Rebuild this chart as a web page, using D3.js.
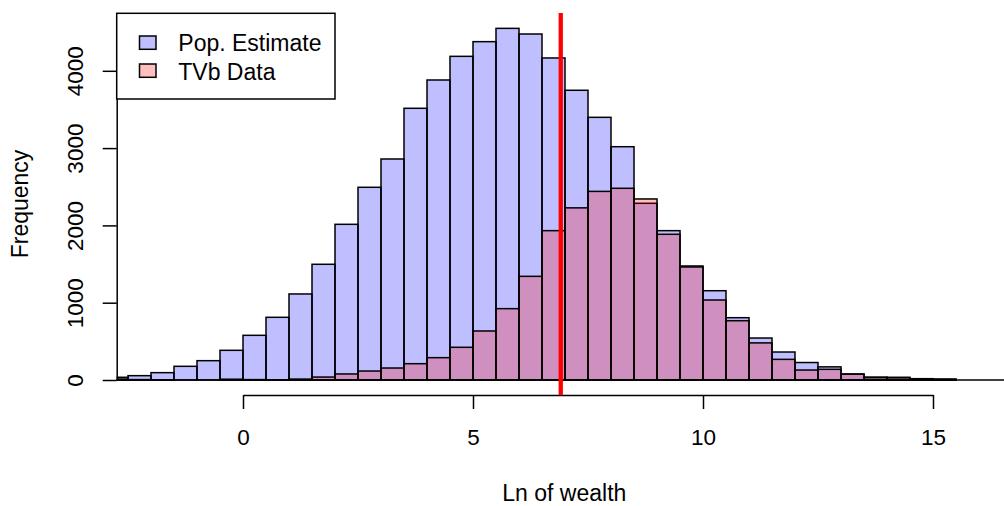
<!DOCTYPE html>
<html>
  <head>
    <meta charset="utf-8">
    <title>Ln of wealth histogram</title>
    <script src="https://cdn.jsdelivr.net/npm/d3@7"></script>
    <style>
      body { margin: 0; background: #fff; }
      svg { display: block; font-family: "Liberation Sans", Arial, sans-serif; }
    </style>
  </head>
  <body>
    <svg id="chart" width="1004" height="506"></svg>
    <script>
// histogram bins: left edges, width 0.5
const binStart = -3;
const binWidth = 0.5;
const popCounts = [35, 56, 95, 177, 250, 384, 578, 811, 1113, 1497,
  2014, 2493, 2859, 3515, 3881, 4187, 4377, 4549, 4476, 4166,
  3748, 3398, 3018, 2286, 1932, 1475, 1155, 806, 543, 362,
  226, 170, 75, 38, 35, 17, 12, 0, 0, 0];
const tvbCounts = [12, 5, 3, 0, 0, 10, 5, 3, 12, 38,
  78, 116, 155, 211, 289, 423, 634, 923, 1341, 1932,
  2227, 2440, 2480, 2342, 1885, 1462, 1035, 767, 480, 267,
  129, 138, 78, 30, 28, 14, 9, 0, 0, 0];
const xTicks = [0, 5, 10, 15];
const yTicks = [0, 1000, 2000, 3000, 4000];
const cutoff = Math.log(1000);  // red line
const legendLabels = ['Pop. Estimate', 'TVb Data'];
const legendFills = ['rgba(0,0,255,0.25)', 'rgba(255,0,0,0.25)'];

let svg = d3.select('#chart');

let plotLeft = 116.7, plotRight = 1012, plotTop = 13, plotBottom = 395;

let x = d3.scaleLinear().domain([0, 15]).range([243, 933]);
let y = d3.scaleLinear().domain([0, 4000]).range([380, 70.8]);

svg.append('defs').append('clipPath').attr('id', 'plot-clip')
  .append('rect')
  .attr('x', plotLeft).attr('y', plotTop)
  .attr('width', plotRight - plotLeft).attr('height', plotBottom - plotTop);

let plot = svg.append('g').attr('clip-path', 'url(#plot-clip)');

function drawHist(counts, fill) {
  let bins = counts.map((c, i) => ({x0: binStart + i * binWidth, count: c}));
  plot.append('g')
    .selectAll('rect')
    .data(bins.filter(d => d.count > 0))
    .enter()
    .append('rect')
    .attr('x', d => x(d.x0))
    .attr('y', d => y(d.count))
    .attr('width', d => x(d.x0 + binWidth) - x(d.x0))
    .attr('height', d => y(0) - y(d.count))
    .attr('fill', fill)
    .attr('stroke', '#000')
    .attr('stroke-width', 1.5);
}

drawHist(popCounts, legendFills[0]);
drawHist(tvbCounts, legendFills[1]);

// zero line
plot.append('line')
  .attr('x1', x(binStart)).attr('x2', plotRight)
  .attr('y1', y(0)).attr('y2', y(0))
  .attr('stroke', '#000').attr('stroke-width', 1.5);

// x axis
let xAxis = svg.append('g').attr('transform', 'translate(0,' + plotBottom + ')')
  .call(d3.axisBottom(x).tickValues(xTicks).tickSize(14).tickSizeOuter(0).tickPadding(20));
xAxis.select('.domain').attr('stroke-width', 1.5);
xAxis.selectAll('.tick line').attr('stroke-width', 1.5);
xAxis.selectAll('.tick text')
  .attr('font-size', 22.5).attr('fill', '#000')
  .attr('font-family', '"Liberation Sans", Arial, sans-serif');

// y axis
let yAxis = svg.append('g').attr('transform', 'translate(' + plotLeft + ',0)')
  .call(d3.axisLeft(y).tickValues(yTicks).tickSize(14).tickSizeOuter(0).tickFormat(d3.format('d')));
yAxis.select('.domain').attr('stroke-width', 1.5);
yAxis.selectAll('.tick line').attr('stroke-width', 1.5);
yAxis.selectAll('.tick text')
  .attr('x', null).attr('dy', null)
  .attr('text-anchor', 'middle')
  .attr('transform', 'translate(' + (83 - plotLeft) + ',0) rotate(-90)')
  .attr('font-size', 22.5).attr('fill', '#000')
  .attr('font-family', '"Liberation Sans", Arial, sans-serif');

// axis titles
svg.append('text')
  .attr('x', (plotLeft + plotRight) / 2).attr('y', 500.5)
  .attr('text-anchor', 'middle').attr('font-size', 23)
  .text('Ln of wealth');
svg.append('text')
  .attr('transform', 'translate(28,' + (plotTop + plotBottom) / 2 + ') rotate(-90)')
  .attr('text-anchor', 'middle').attr('font-size', 23)
  .text('Frequency');

// cutoff line
svg.append('line')
  .attr('x1', x(cutoff)).attr('x2', x(cutoff))
  .attr('y1', plotTop).attr('y2', plotBottom)
  .attr('stroke', '#ff0000').attr('stroke-width', 4.3);

// legend
let legend = svg.append('g');
legend.append('rect')
  .attr('x', plotLeft).attr('y', plotTop + 0.3)
  .attr('width', 335 - plotLeft).attr('height', 99 - plotTop - 0.3)
  .attr('fill', '#fff').attr('stroke', '#000').attr('stroke-width', 1.5);
legendLabels.forEach((label, i) => {
  legend.append('rect')
    .attr('x', 139.5).attr('y', 36 + i * 28)
    .attr('width', 16.5).attr('height', 13.3)
    .attr('fill', legendFills[i]).attr('stroke', '#000').attr('stroke-width', 1.5);
  legend.append('text')
    .attr('x', 178.3).attr('y', 51 + i * 28.5)
    .attr('font-size', 23)
    .text(label);
});
    </script>
  </body>
</html>
